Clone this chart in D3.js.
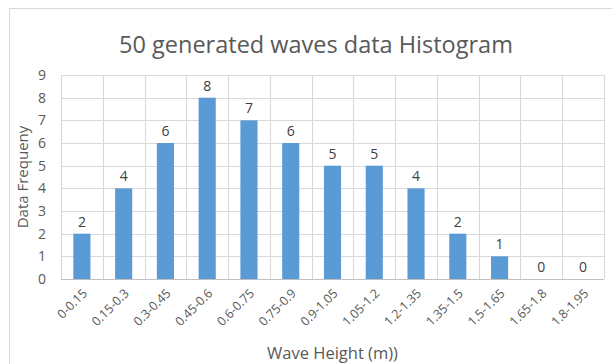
<!DOCTYPE html>
<html>
<head>
<meta charset="utf-8">
<script src="https://cdn.jsdelivr.net/npm/d3@7"></script>
<style>
  body { margin: 0; background: #fff; }
  svg { display: block; font-family: "Open Sans", "Liberation Sans", sans-serif; }
</style>
</head>
<body>
<svg id="chart" width="612" height="364"></svg>
<script>
// Wave height bins and how many of the 50 generated waves fall in each
const categories = ["0-0.15", "0.15-0.3", "0.3-0.45", "0.45-0.6", "0.6-0.75", "0.75-0.9",
  "0.9-1.05", "1.05-1.2", "1.2-1.35", "1.35-1.5", "1.5-1.65", "1.65-1.8", "1.8-1.95"];
const frequency = [2, 4, 6, 8, 7, 6, 5, 5, 4, 2, 1, 0, 0];
const yTicks = [0, 1, 2, 3, 4, 5, 6, 7, 8, 9];

const title = "50 generated waves data Histogram";
const xTitle = "Wave Height (m))";
const yTitle = "Data Frequeny";

const svg = d3.select("#chart");
const margin = { left: 61, top: 75, right: 8, bottom: 85 };
const W = 612, H = 364;

// chart frame
svg.append("rect")
  .attr("x", 9.5).attr("y", 8.5)
  .attr("width", 640).attr("height", 400)
  .attr("fill", "#fff").attr("stroke", "#d9d9d9");

const x = d3.scaleBand()
  .domain(categories)
  .range([margin.left, W - margin.right])
  .paddingInner(0.59).paddingOuter(0.295);

const y = d3.scaleLinear()
  .domain([0, 9])
  .range([H - margin.bottom, margin.top]);

const g = svg.append("g");

// horizontal gridlines
g.selectAll("line.h").data(yTicks).enter().append("line")
  .attr("x1", margin.left).attr("x2", W - margin.right)
  .attr("y1", d => Math.round(y(d)) + 0.5).attr("y2", d => Math.round(y(d)) + 0.5)
  .attr("stroke", "#d9d9d9").attr("stroke-width", 1.2);

// vertical gridlines at bin boundaries
const step = x.step();
const bounds = d3.range(categories.length + 1).map(i => margin.left + i * step);
g.selectAll("line.v").data(bounds).enter().append("line")
  .attr("x1", d => Math.round(d) + 0.5).attr("x2", d => Math.round(d) + 0.5)
  .attr("y1", y(9)).attr("y2", y(0))
  .attr("stroke", "#d9d9d9").attr("stroke-width", 1.2);

// bars
g.selectAll("rect.bar").data(frequency).enter().append("rect")
  .attr("x", (d, i) => x(categories[i]))
  .attr("width", x.bandwidth())
  .attr("y", d => y(d))
  .attr("height", d => y(0) - y(d))
  .attr("fill", "#5b9bd5");

// baseline
g.append("line")
  .attr("x1", margin.left).attr("x2", W - margin.right)
  .attr("y1", Math.round(y(0)) + 0.5).attr("y2", Math.round(y(0)) + 0.5)
  .attr("stroke", "#bfbfbf").attr("stroke-width", 1.2);

// value labels
g.selectAll("text.val").data(frequency).enter().append("text")
  .attr("x", (d, i) => x(categories[i]) + x.bandwidth() / 2)
  .attr("y", d => y(d) - 7)
  .attr("text-anchor", "middle")
  .attr("font-size", 14).attr("fill", "#404040")
  .text(d => d);

// y tick labels
g.selectAll("text.yt").data(yTicks).enter().append("text")
  .attr("x", 46).attr("y", d => y(d) + 5)
  .attr("text-anchor", "end")
  .attr("font-size", 14).attr("fill", "#595959")
  .text(d => d);

// x tick labels, rotated
g.selectAll("text.xt").data(categories).enter().append("text")
  .attr("transform", d => `translate(${x(d) + x.bandwidth() / 2 + 3},${y(0) + 12}) rotate(-45)`)
  .attr("text-anchor", "end")
  .attr("dy", "0.35em")
  .attr("font-size", 12.5).attr("fill", "#595959")
  .text(d => d);

// titles
svg.append("text")
  .attr("x", 316).attr("y", 53)
  .attr("text-anchor", "middle")
  .attr("font-size", 23.5).attr("fill", "#595959")
  .text(title);

svg.append("text")
  .attr("x", (margin.left + W - margin.right) / 2).attr("y", 359)
  .attr("text-anchor", "middle")
  .attr("font-size", 16.5).attr("fill", "#595959")
  .text(xTitle);

svg.append("text")
  .attr("transform", `translate(28,${(y(0) + y(9)) / 2}) rotate(-90)`)
  .attr("text-anchor", "middle")
  .attr("font-size", 15).attr("fill", "#595959")
  .text(yTitle);
</script>
</body>
</html>
